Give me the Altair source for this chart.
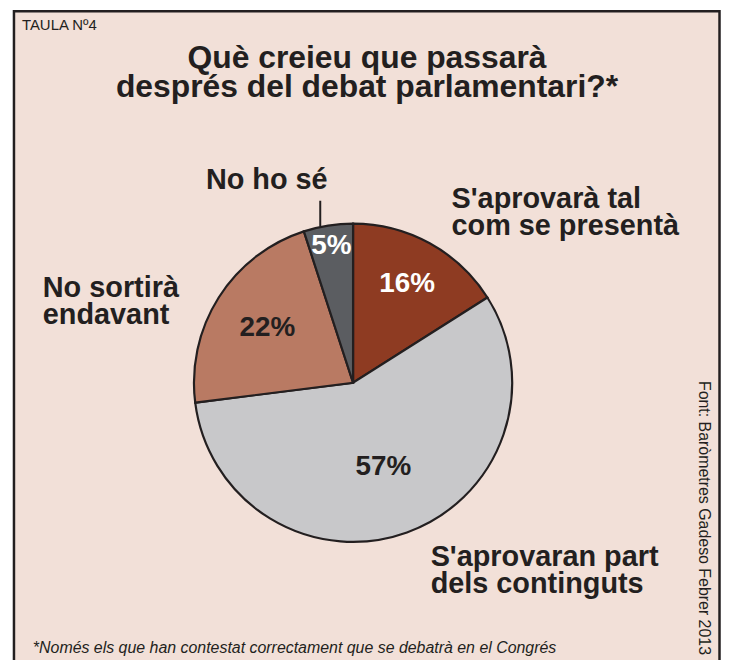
import altair as alt
import pandas as pd

# ---- data ----
categories = [
    "S'aprovarà tal com se presentà",
    "S'aprovaran part dels continguts",
    "No sortirà endavant",
    "No ho sé",
]
values = [16, 57, 22, 5]

# ---- styling / layout ----
slice_colors = ["#8E3B22", "#C8C8CA", "#B97A63", "#5B5D61"]
pct_label_colors = ["#FFFFFF", "#231F20", "#231F20", "#FFFFFF"]
pct_label_radius = [113, 90, 102, 139]

W, H = 717, 652
CX, CY, R = 347, 375, 160
INK = "#231F20"
BG = "#F2E0D8"
FONT = "Liberation Sans"

df = pd.DataFrame({
    "cat": categories,
    "value": values,
    "idx": list(range(len(values))),
    "lr": pct_label_radius,
    "lc": pct_label_colors,
})

one = alt.Data(values=[{}])

frame = alt.Chart(one).mark_rect(fill=BG, stroke=INK, strokeWidth=2.5).encode(
    x=alt.value(6), x2=alt.value(W - 1.5), y=alt.value(1.5), y2=alt.value(H + 40)
)

pie = alt.Chart(df).mark_arc(outerRadius=R, stroke=INK, strokeWidth=2.2).encode(
    theta=alt.Theta("value:Q", stack=True),
    order=alt.Order("idx:Q"),
    color=alt.Color("cat:N", scale=alt.Scale(domain=categories, range=slice_colors), legend=None),
    x=alt.value(CX),
    y=alt.value(CY),
)

pct = alt.Chart(df).transform_joinaggregate(
    total="sum(value)"
).transform_window(
    cum="sum(value)", sort=[alt.SortField("idx")], frame=[None, 0]
).transform_calculate(
    mid="(datum.cum - datum.value / 2) / datum.total * 2 * PI",
    lx=f"{CX} + datum.lr * sin(datum.mid)",
    ly=f"{CY} - datum.lr * cos(datum.mid)",
    txt="datum.value + '%'",
).mark_text(font=FONT, fontSize=28, fontWeight="bold", align="center", baseline="middle").encode(
    x=alt.X("lx:Q", scale=None, axis=None),
    y=alt.Y("ly:Q", scale=None, axis=None),
    text="txt:N",
    color=alt.Color("lc:N", scale=None, legend=None),
)

def txt(text, x, y, size, weight="bold", align="left", style="normal", angle=0, line_height=None, baseline="alphabetic"):
    kw = dict(font=FONT, fontSize=size, fontWeight=weight, align=align, fontStyle=style,
              color=INK, baseline=baseline, text=text)
    if angle:
        kw["angle"] = angle
    if line_height:
        kw["lineHeight"] = line_height
    return alt.Chart(one).mark_text(**kw).encode(x=alt.value(x), y=alt.value(y))

leader = alt.Chart(one).mark_rule(color=INK, strokeWidth=2).encode(
    x=alt.value(314), y=alt.value(192), y2=alt.value(218)
)

layers = [
    frame,
    pie,
    pct,
    leader,
    txt("TAULA Nº4", 14, 20, 15, weight="normal"),
    txt(["Què creieu que passarà", "després del debat parlamentari?*"], 361, 59, 32, align="center", line_height=29),
    txt("No ho sé", 199, 180, 29),
    txt(["S'aprovarà tal", "com se presentà"], 446, 199, 29, line_height=27),
    txt(["No sortirà", "endavant"], 35, 289, 29, line_height=27),
    txt(["S'aprovaran part", "dels continguts"], 425, 559, 29, line_height=27),
    txt("Font: Baròmetres Gadeso Febrer 2013", 700, 511, 16, weight="normal", align="center",
        angle=90, baseline="middle"),
    txt("*Només els que han contestat correctament que se debatrà en el Congrés", 25, 647, 16,
        weight="normal", style="italic"),
]

chart = alt.layer(*layers).resolve_scale(color="independent").properties(
    width=W, height=H, padding=0, autosize=alt.AutoSizeParams(type="none"), background="white"
).configure_view(strokeWidth=0)

chart.save("out.html", embed_options={"renderer": "svg", "actions": False})
